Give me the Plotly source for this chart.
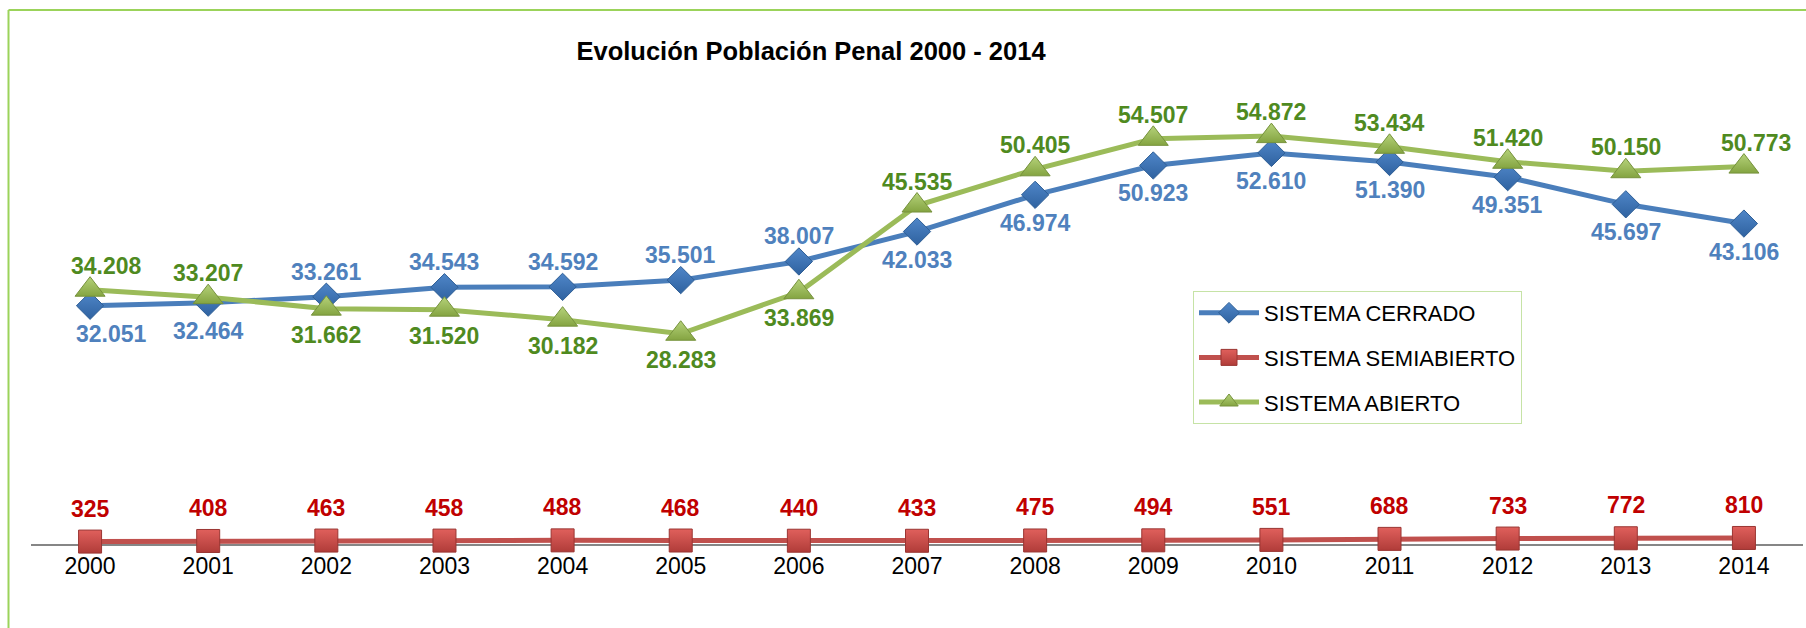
import plotly.graph_objects as go

# ---------------- data ----------------
years = [str(y) for y in range(2000, 2015)]
cerrado = [32051, 32464, 33261, 34543, 34592, 35501, 38007, 42033,
           46974, 50923, 52610, 51390, 49351, 45697, 43106]
semiabierto = [325, 408, 463, 458, 488, 468, 440, 433,
               475, 494, 551, 688, 733, 772, 810]
abierto = [34208, 33207, 31662, 31520, 30182, 28283, 33869, 45535,
           50405, 54507, 54872, 53434, 51420, 50150, 50773]
names = ["SISTEMA CERRADO", "SISTEMA SEMIABIERTO", "SISTEMA ABIERTO"]
title_text = "Evolución Población Penal 2000 - 2014"

# label placement (above / below the point)
cerrado_pos = ["below", "below", "above", "above", "above", "above", "above",
               "below", "below", "below", "below", "below", "below", "below", "below"]
abierto_pos = ["above", "above", "below", "below", "below", "below", "below",
               "above", "above", "above", "above", "above", "above", "above", "above"]
semi_pos = ["above"] * 15
# small horizontal nudges of individual labels (index -> px)
cerrado_nudge = {0: 21}
abierto_nudge = {0: 16, 14: 12}
semi_nudge = {}

FONT = "Liberation Sans, Arial, sans-serif"
W, H = 1806, 628
ML, MR, MT, MB = 31, 3, 98, 84
PW, PH = W - ML - MR, H - MT - MB


def fmt(v):
    return f"{v:,}".replace(",", ".")


fig = go.Figure()

series = [
    (cerrado, names[0], "#4A7EBB", dict(symbol="diamond", size=21, color="#4F86C8",
                                         line=dict(color="#2F5F96", width=1),
                                         gradient=dict(type="vertical", color="#2F62A0"))),
    (semiabierto, names[1], "#C0504D", dict(symbol="square", size=23, color="#E0605C",
                                             line=dict(color="#9A3532", width=1),
                                             gradient=dict(type="vertical", color="#B03C39"))),
    (abierto, names[2], "#9BBB59", dict(symbol="triangle-up", size=26, color="#B5D27A",
                                         line=dict(color="#76923C", width=1),
                                         gradient=dict(type="vertical", color="#84A441"))),
]

for i, (vals, name, col, mk) in enumerate(series):
    fig.add_trace(go.Scatter(
        x=years, y=vals, name=name, mode="lines+markers",
        line=dict(color=col, width=5), marker=mk, cliponaxis=False,
        legendgroup=f"g{i}", hoverinfo="x+y+name",
    ))

annotations = []
label_specs = [
    (cerrado, cerrado_pos, cerrado_nudge, "#4F81BD", 25, 28),
    (semiabierto, semi_pos, semi_nudge, "#C00000", 33, 28),
    (abierto, abierto_pos, abierto_nudge, "#4F8A1F", 24, 26),
]
for vals, pos, nudge, tcol, up, down in label_specs:
    for j, v in enumerate(vals):
        annotations.append(dict(
            x=j, y=v, xref="x", yref="y", text=fmt(v), showarrow=False,
            yshift=up if pos[j] == "above" else -down,
            xshift=nudge.get(j, 0),
            font=dict(family=FONT, size=23, color=tcol, weight="bold"),
        ))

# chart-area border (left and top visible)
bx = (8.5 - ML) / PW
by = 1 + (MT - 10) / PH
shapes = [
    dict(type="line", xref="paper", yref="paper", x0=bx, x1=bx, y0=-0.5, y1=by,
         line=dict(color="#9BD35A", width=2), layer="above"),
    dict(type="line", xref="paper", yref="paper", x0=bx, x1=1.2, y0=by, y1=by,
         line=dict(color="#9BD35A", width=2), layer="above"),
]

fig.update_layout(
    width=W, height=H,
    margin=dict(l=ML, r=MR, t=MT, b=MB, pad=0),
    paper_bgcolor="white", plot_bgcolor="white",
    font=dict(family=FONT, color="black"),
    title=dict(text=title_text, x=795 / W, y=1 - 51 / H, xref="paper", yref="container",
               xanchor="center", yanchor="middle",
               font=dict(family=FONT, size=25.5, color="black", weight="bold")),
    xaxis=dict(type="category", range=[-0.5, 14.5], showline=True, linecolor="#868686",
               linewidth=2, ticks="", showgrid=False, zeroline=False,
               tickfont=dict(family=FONT, size=23, color="black"), layer="below traces"),
    yaxis=dict(visible=False, range=[0, 60000], showgrid=False, zeroline=False),
    legend=dict(x=(1193 - ML) / PW, y=1 - (291 - MT) / PH, xanchor="left", yanchor="top",
                bgcolor="white", bordercolor="#C6E3A6", borderwidth=1,
                font=dict(family=FONT, size=22, color="black"),
                traceorder="grouped", tracegroupgap=13, itemwidth=60),
    annotations=annotations,
    shapes=shapes,
    showlegend=True,
)

fig.write_html("out.html", config={"displayModeBar": False},
               post_script="document.body.style.margin='0px';")
